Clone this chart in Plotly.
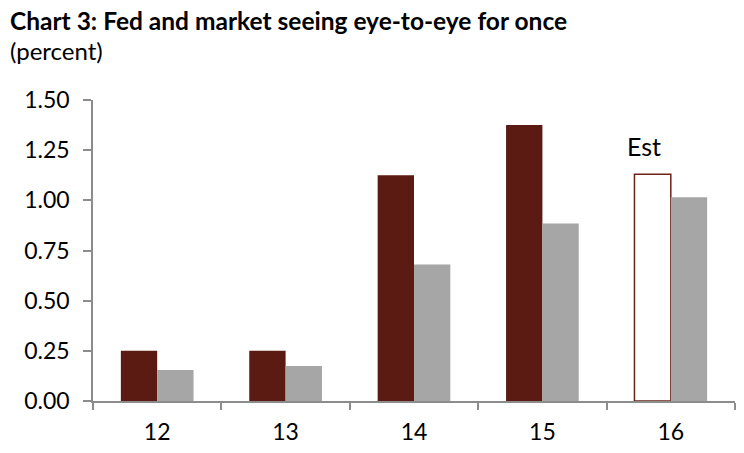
import plotly.graph_objects as go

categories = ["12", "13", "14", "15", "16"]
fed_values = [0.25, 0.25, 1.125, 1.375, 1.13]
market_values = [0.155, 0.175, 0.68, 0.885, 1.015]
y_ticks = [0.0, 0.25, 0.5, 0.75, 1.0, 1.25, 1.5]
y_tick_labels = ["0.00", "0.25", "0.50", "0.75", "1.00", "1.25", "1.50"]

DARK = "#5B1A12"
GRAY = "#A6A6A6"
FONT = "Lato, Calibri, Arial, sans-serif"

fed_fill = [DARK] * 4 + ["white"]
fed_line_w = [0, 0, 0, 0, 1.5]

fig = go.Figure()
fig.add_trace(go.Bar(
    x=categories, y=fed_values, name="Fed",
    marker=dict(color=fed_fill, line=dict(color="#6B2218", width=fed_line_w)),
))
fig.add_trace(go.Bar(
    x=categories, y=market_values, name="Market",
    marker=dict(color=GRAY, line=dict(width=0)),
))

fig.add_annotation(
    x=categories.index("16"), y=fed_values[4], xref="x", yref="y",
    text="Est", showarrow=False, yanchor="bottom", yshift=11, xshift=-27,
    font=dict(family=FONT, size=25, color="black"),
)

fig.add_annotation(
    x=-0.1324, y=(401 - 20) / 301, xref="paper", yref="paper",
    text="<b>Chart 3: Fed and market seeing eye-to-eye for once</b>",
    showarrow=False, xanchor="left", yanchor="middle",
    font=dict(family=FONT, size=24.5, color="black"),
)
fig.add_annotation(
    x=-0.1324, y=(401 - 50) / 301, xref="paper", yref="paper",
    text="(percent)",
    showarrow=False, xanchor="left", yanchor="middle",
    font=dict(family=FONT, size=24, color="black"),
)

fig.update_layout(
    width=744, height=453,
    margin=dict(l=93, r=9, t=100, b=52),
    paper_bgcolor="white", plot_bgcolor="white",
    barmode="group", bargap=0.434, bargroupgap=0,
    showlegend=False,
    font=dict(family=FONT, size=23, color="black"),
)
fig.update_xaxes(
    type="category", range=[-0.5, 4.5], showline=True, linecolor="#8C8C8C", linewidth=1.5,
    ticks="outside", tickson="boundaries", ticklen=7, tickcolor="#8C8C8C", tickwidth=1.5,
    showgrid=False, zeroline=False, ticklabelstandoff=10,
)
fig.update_yaxes(
    range=[0, 1.5], tickvals=y_ticks, ticktext=y_tick_labels,
    showline=True, linecolor="#8C8C8C", linewidth=1.5,
    ticks="outside", ticklen=8, tickcolor="#8C8C8C", tickwidth=1.5,
    showgrid=False, zeroline=False, ticklabelstandoff=9,
)

fig.write_html("out.html")
